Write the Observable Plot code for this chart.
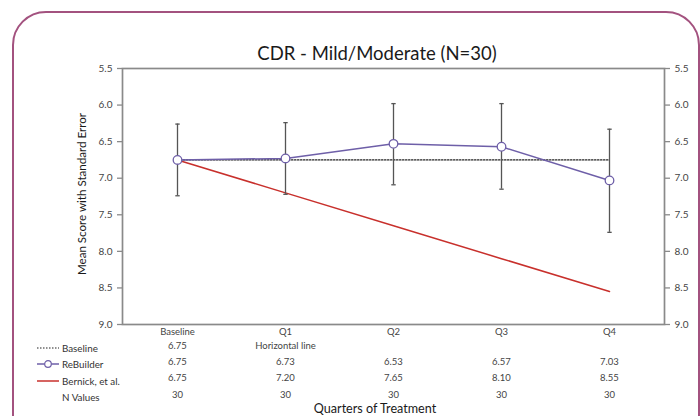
<!DOCTYPE html>
<html>
<head>
<meta charset="utf-8">
<script src="https://cdn.jsdelivr.net/npm/d3@7"></script>
<script src="https://cdn.jsdelivr.net/npm/@observablehq/plot@0.6"></script>
<style>
  html, body { margin: 0; padding: 0; background: #fff; }
  #wrap { position: relative; width: 700px; height: 416px; overflow: hidden; font-family: Lato, "Open Sans", sans-serif; }
  #border { position: absolute; left: 12px; top: 11px; width: 688px; height: 440px; border: 2px solid #a3527f; border-radius: 34px; box-sizing: border-box; }
  #title { position: absolute; top: 42px; left: 0; width: 754px; text-align: center; font-size: 18.5px; color: #1a1a1a; }
  #xlabel { position: absolute; top: 401px; left: 0; width: 750px; text-align: center; font-size: 12.6px; color: #1a1a1a; }
  #ylabel { position: absolute; left: 82px; top: 194px; width: 0; height: 0; }
  #ylabel span { position: absolute; left: 0; top: 0; transform: translate(-50%, -50%) rotate(-90deg); white-space: nowrap; font-size: 11.6px; line-height: 14px; color: #1a1a1a; }
  .leg { position: absolute; left: 37px; height: 14px; font-size: 9.8px; color: #333; display: flex; align-items: center; white-space: nowrap; }
  .leg svg { margin-right: 3px; }
  #chart { position: absolute; left: 0; top: 0; }
</style>
</head>
<body>
<div id="wrap">
  <div id="chart"></div>
  <div id="border"></div>
  <div id="title"></div>
  <div id="xlabel"></div>
  <div id="ylabel"><span></span></div>
  <div id="legend"></div>
</div>
<script>
const categories = ["Baseline", "Q1", "Q2", "Q3", "Q4"];
const baselineLine = [6.75, 6.75, 6.75, 6.75, 6.75];
const baselineRow = ["6.75", "Horizontal line", "", "", ""];
const rebuilder = [6.75, 6.73, 6.53, 6.57, 7.03];
const rebuilderLow = [6.26, 6.24, 5.98, 5.98, 6.33];
const rebuilderHigh = [7.24, 7.22, 7.09, 7.15, 7.74];
const bernick = [6.75, 7.20, 7.65, 8.10, 8.55];
const nValues = [30, 30, 30, 30, 30];
const yTicks = [5.5, 6.0, 6.5, 7.0, 7.5, 8.0, 8.5, 9.0];
const legendLabels = ["Baseline", "ReBuilder", "Bernick, et al.", "N Values"];
const titleText = "CDR - Mild/Moderate (N=30)";
const xLabelText = "Quarters of Treatment";
const yLabelText = "Mean Score with Standard Error";

const rows = categories.map((c, i) => ({
  cat: c,
  base: baselineLine[i],
  baseTxt: baselineRow[i],
  reb: rebuilder[i],
  lo: rebuilderLow[i],
  hi: rebuilderHigh[i],
  ber: bernick[i],
  n: nValues[i]
}));

const capSymbol = {
  draw(ctx, size) {
    const w = 2.2;
    ctx.moveTo(-w, 0);
    ctx.lineTo(w, 0);
  }
};

const axisColor = "#8a8a8a";
const textColor = "#444";
const purple = "#6e5fa8";
const red = "#c8302c";
const tableSize = 9.5;

const plot = Plot.plot({
  width: 700,
  height: 416,
  marginTop: 68,
  marginBottom: 92,
  marginLeft: 122,
  marginRight: 36,
  style: { fontFamily: "Lato, 'Open Sans', sans-serif", background: "transparent", overflow: "visible" },
  x: { type: "point", domain: categories, padding: 0.5 },
  y: { domain: [5.5, 9.0], reverse: true },
  marks: [
    Plot.frame({ stroke: axisColor, strokeWidth: 1.7 }),
    Plot.axisY({ anchor: "left", ticks: yTicks, tickFormat: d3.format(".1f"), tickSize: 5, tickPadding: 5, stroke: axisColor, strokeWidth: 1.3, color: textColor, fontSize: 10, label: null }),
    Plot.axisY({ anchor: "right", ticks: yTicks, tickFormat: d3.format(".1f"), tickSize: 5, tickPadding: 5, stroke: axisColor, strokeWidth: 1.3, color: textColor, fontSize: 10, label: null }),
    Plot.axisX({ anchor: "bottom", tickSize: 0, tickPadding: 4, color: textColor, fontSize: tableSize, label: null }),
    Plot.line(rows, { x: "cat", y: "base", stroke: "#222", strokeWidth: 1.2, strokeDasharray: "1.5,1.5" }),
    Plot.line(rows, { x: "cat", y: "ber", stroke: red, strokeWidth: 1.5 }),
    Plot.ruleX(rows, { x: "cat", y1: "lo", y2: "hi", stroke: "#555", strokeWidth: 1.3 }),
    Plot.dot(rows, { x: "cat", y: "lo", symbol: capSymbol, stroke: "#555", strokeWidth: 1.3 }),
    Plot.dot(rows, { x: "cat", y: "hi", symbol: capSymbol, stroke: "#555", strokeWidth: 1.3 }),
    Plot.line(rows, { x: "cat", y: "reb", stroke: purple, strokeWidth: 1.5 }),
    Plot.dot(rows, { x: "cat", y: "reb", r: 4.3, fill: "white", stroke: purple, strokeWidth: 1.3 }),
    Plot.text(rows, { x: "cat", text: "baseTxt", frameAnchor: "bottom", dy: 24, fontSize: tableSize, fill: textColor }),
    Plot.text(rows, { x: "cat", text: d => d3.format(".2f")(d.reb), frameAnchor: "bottom", dy: 40, fontSize: tableSize, fill: textColor }),
    Plot.text(rows, { x: "cat", text: d => d3.format(".2f")(d.ber), frameAnchor: "bottom", dy: 56.5, fontSize: tableSize, fill: textColor }),
    Plot.text(rows, { x: "cat", text: d => String(d.n), frameAnchor: "bottom", dy: 73, fontSize: tableSize, fill: textColor })
  ]
});
document.getElementById("chart").appendChild(plot);

document.getElementById("title").textContent = titleText;
document.getElementById("xlabel").textContent = xLabelText;
document.querySelector("#ylabel span").textContent = yLabelText;

const legendTops = [341, 357, 373.5, 390];
const swatches = [
  `<svg width="22" height="10"><line x1="0" y1="5" x2="22" y2="5" stroke="#222" stroke-width="1.2" stroke-dasharray="1.5,1.5"/></svg>`,
  `<svg width="22" height="10"><line x1="0" y1="5" x2="22" y2="5" stroke="${purple}" stroke-width="1.5"/><circle cx="11" cy="5" r="3.3" fill="white" stroke="${purple}" stroke-width="1.2"/></svg>`,
  `<svg width="22" height="10"><line x1="0" y1="5" x2="22" y2="5" stroke="${red}" stroke-width="1.5"/></svg>`,
  `<svg width="22" height="10"></svg>`
];
const legend = document.getElementById("legend");
legendLabels.forEach((lab, i) => {
  const d = document.createElement("div");
  d.className = "leg";
  d.style.top = legendTops[i] + "px";
  d.innerHTML = swatches[i];
  const s = document.createElement("span");
  s.textContent = lab;
  d.appendChild(s);
  legend.appendChild(d);
});
</script>
</body>
</html>
